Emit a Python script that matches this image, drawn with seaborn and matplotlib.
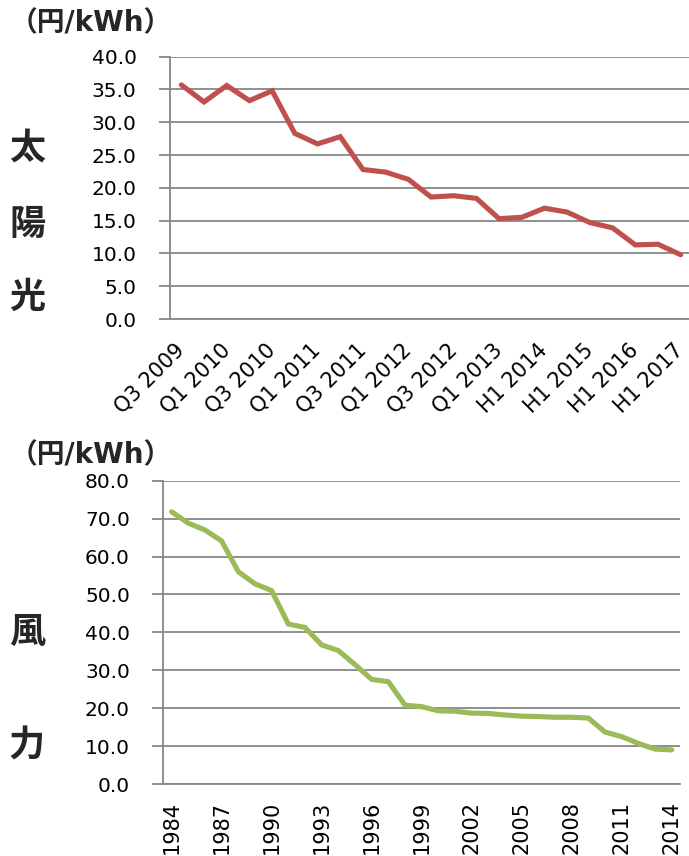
import numpy as np
import pandas as pd
import matplotlib
matplotlib.use("Agg")
import matplotlib.pyplot as plt
import seaborn as sns

# Solar generation cost by period (円/kWh)
solar_periods = [
    "Q3 2009", "Q4 2009", "Q1 2010", "Q2 2010", "Q3 2010", "Q4 2010",
    "Q1 2011", "Q2 2011", "Q3 2011", "Q4 2011", "Q1 2012", "Q2 2012",
    "Q3 2012", "Q4 2012", "Q1 2013", "H2 2013", "H1 2014", "H2 2014",
    "H1 2015", "H2 2015", "H1 2016", "H2 2016", "H1 2017",
]
solar_cost = [
    35.7, 33.1, 35.6, 33.3, 34.8, 28.3, 26.7, 27.8, 22.8, 22.4, 21.3, 18.6,
    18.8, 18.4, 15.3, 15.5, 16.9, 16.3, 14.7, 13.9, 11.3, 11.4, 9.8,
]
solar_labels = solar_periods[::2]

# Wind generation cost by year (円/kWh)
wind_years = [str(y) for y in range(1984, 2015)]
wind_cost = [
    71.8, 68.8, 67.0, 64.1, 56.0, 52.8, 51.0, 42.2, 41.3, 36.7, 35.2, 31.5,
    27.6, 27.0, 20.8, 20.4, 19.3, 19.2, 18.7, 18.6, 18.2, 17.9, 17.8, 17.6,
    17.6, 17.4, 13.7, 12.5, 10.7, 9.2, 9.0,
]
wind_labels = wind_years[::3]

sns.set_style("white")
plt.rcParams["font.family"] = ["DejaVu Sans", "Noto Sans CJK JP"]
CJK = ["Noto Sans CJK JP", "DejaVu Sans"]
MIXED = ["DejaVu Sans", "Noto Sans CJK JP"]

GREY = "#878787"
RED = "#C0504D"
GREEN = "#9BBB59"

W, H = 689, 856
fig = plt.figure(figsize=(W / 100, H / 100), dpi=100)

ax1 = fig.add_axes([170 / W, 1 - 319 / H, 522 / W, (319 - 56.7) / H])
ax2 = fig.add_axes([163.3 / W, 1 - 784 / H, 516.7 / W, (784 - 480.7) / H])

solar_df = pd.DataFrame({"period": solar_periods, "cost": solar_cost})
wind_df = pd.DataFrame({"year": wind_years, "cost": wind_cost})

sns.lineplot(data=solar_df, x="period", y="cost", sort=False, color=RED,
             lw=3.7, ax=ax1, solid_joinstyle="miter")
sns.lineplot(data=wind_df, x="year", y="cost", sort=False, color=GREEN,
             lw=3.7, ax=ax2, solid_joinstyle="miter")


def style_axis(ax, n, label_step, labels, ymax, ystep, label_pad):
    ax.set_xlim(-0.5, n - 0.5)
    ax.set_ylim(0, ymax)
    ax.set_xlabel("")
    ax.set_ylabel("")
    ax.set_xticks(np.arange(0, n, label_step))
    ax.set_xticklabels(labels)
    ax.set_xticks(np.arange(-0.5, n, 1), minor=True)
    ax.tick_params(axis="x", which="major", length=0, pad=label_pad,
                   labelsize=15, labelcolor="black")
    ax.tick_params(axis="x", which="minor", length=8, width=1.3,
                   color=GREY, direction="out")
    ax.set_yticks(np.arange(0, ymax + ystep / 2, ystep))
    ax.yaxis.set_major_formatter(matplotlib.ticker.StrMethodFormatter("{x:.1f}"))
    ax.tick_params(axis="y", length=8, width=1.3, color=GREY, pad=16,
                   labelsize=14.5, labelcolor="black", direction="out", left=True)
    ax.yaxis.grid(True, color=GREY, lw=1.3)
    ax.xaxis.grid(False)
    for side in ("top", "right"):
        ax.spines[side].set_visible(False)
    for side in ("left", "bottom"):
        ax.spines[side].set_color(GREY)
        ax.spines[side].set_linewidth(1.3)
    ax.set_axisbelow(True)


style_axis(ax1, len(solar_periods), 2, solar_labels, 40, 5, 20)
style_axis(ax2, len(wind_years), 3, wind_labels, 80, 10, 12)

for lab in ax1.get_xticklabels():
    lab.set_rotation(45)
    lab.set_rotation_mode("anchor")
    lab.set_ha("right")
    lab.set_va("center")
for lab in ax2.get_xticklabels():
    lab.set_rotation(90)
    lab.set_ha("center")
    lab.set_va("top")

# Unit captions and vertical category names
for yc in (23, 455):
    fig.text(91 / W, 1 - yc / H, "（円/kWh）", family=MIXED, weight="bold",
             fontsize=20, ha="center", va="center")
for ch, yc in zip("太陽光", (148, 224, 297)):
    fig.text(27 / W, 1 - yc / H, ch, family=CJK, weight="bold",
             fontsize=26, ha="center", va="center")
for ch, yc in zip("風力", (632, 746)):
    fig.text(27 / W, 1 - yc / H, ch, family=CJK, weight="bold",
             fontsize=26, ha="center", va="center")

fig.savefig("out.png", dpi=100, facecolor="white")
